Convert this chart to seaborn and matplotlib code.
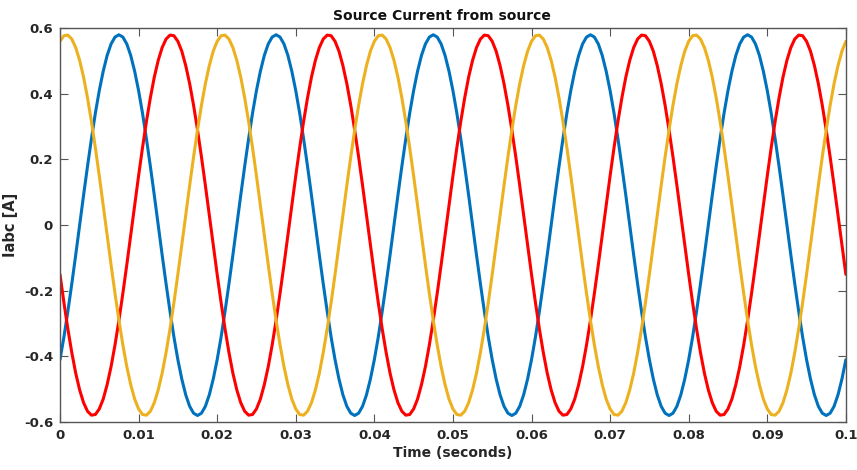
import numpy as np
import pandas as pd
import matplotlib
matplotlib.use('Agg')
import matplotlib.pyplot as plt
import seaborn as sns
from matplotlib.ticker import FuncFormatter

# sample times (0.5 ms step over 0.1 s)
t_start, t_stop, n_samples = 0.0, 0.1, 201

# phase currents [A], 40 samples per 20 ms period
ia = [
    -0.410, -0.341, -0.263, -0.179, -0.091, 0.000, 0.091, 0.179, 0.263, 0.341,
    0.410, 0.469, 0.517, 0.552, 0.573, 0.580, 0.573, 0.552, 0.517, 0.469,
    0.410, 0.341, 0.263, 0.179, 0.091, 0.000, -0.091, -0.179, -0.263, -0.341,
    -0.410, -0.469, -0.517, -0.552, -0.573, -0.580, -0.573, -0.552, -0.517, -0.469,
    -0.410, -0.341, -0.263, -0.179, -0.091, 0.000, 0.091, 0.179, 0.263, 0.341,
    0.410, 0.469, 0.517, 0.552, 0.573, 0.580, 0.573, 0.552, 0.517, 0.469,
    0.410, 0.341, 0.263, 0.179, 0.091, 0.000, -0.091, -0.179, -0.263, -0.341,
    -0.410, -0.469, -0.517, -0.552, -0.573, -0.580, -0.573, -0.552, -0.517, -0.469,
    -0.410, -0.341, -0.263, -0.179, -0.091, 0.000, 0.091, 0.179, 0.263, 0.341,
    0.410, 0.469, 0.517, 0.552, 0.573, 0.580, 0.573, 0.552, 0.517, 0.469,
    0.410, 0.341, 0.263, 0.179, 0.091, 0.000, -0.091, -0.179, -0.263, -0.341,
    -0.410, -0.469, -0.517, -0.552, -0.573, -0.580, -0.573, -0.552, -0.517, -0.469,
    -0.410, -0.341, -0.263, -0.179, -0.091, 0.000, 0.091, 0.179, 0.263, 0.341,
    0.410, 0.469, 0.517, 0.552, 0.573, 0.580, 0.573, 0.552, 0.517, 0.469,
    0.410, 0.341, 0.263, 0.179, 0.091, 0.000, -0.091, -0.179, -0.263, -0.341,
    -0.410, -0.469, -0.517, -0.552, -0.573, -0.580, -0.573, -0.552, -0.517, -0.469,
    -0.410, -0.341, -0.263, -0.179, -0.091, 0.000, 0.091, 0.179, 0.263, 0.341,
    0.410, 0.469, 0.517, 0.552, 0.573, 0.580, 0.573, 0.552, 0.517, 0.469,
    0.410, 0.341, 0.263, 0.179, 0.091, 0.000, -0.091, -0.179, -0.263, -0.341,
    -0.410, -0.469, -0.517, -0.552, -0.573, -0.580, -0.573, -0.552, -0.517, -0.469,
    -0.410,
]

ib = [
    -0.150, -0.236, -0.316, -0.388, -0.451, -0.502, -0.541, -0.567, -0.579, -0.577,
    -0.560, -0.530, -0.486, -0.431, -0.365, -0.290, -0.208, -0.121, -0.030, 0.061,
    0.150, 0.236, 0.316, 0.388, 0.451, 0.502, 0.541, 0.567, 0.579, 0.577,
    0.560, 0.530, 0.486, 0.431, 0.365, 0.290, 0.208, 0.121, 0.030, -0.061,
    -0.150, -0.236, -0.316, -0.388, -0.451, -0.502, -0.541, -0.567, -0.579, -0.577,
    -0.560, -0.530, -0.486, -0.431, -0.365, -0.290, -0.208, -0.121, -0.030, 0.061,
    0.150, 0.236, 0.316, 0.388, 0.451, 0.502, 0.541, 0.567, 0.579, 0.577,
    0.560, 0.530, 0.486, 0.431, 0.365, 0.290, 0.208, 0.121, 0.030, -0.061,
    -0.150, -0.236, -0.316, -0.388, -0.451, -0.502, -0.541, -0.567, -0.579, -0.577,
    -0.560, -0.530, -0.486, -0.431, -0.365, -0.290, -0.208, -0.121, -0.030, 0.061,
    0.150, 0.236, 0.316, 0.388, 0.451, 0.502, 0.541, 0.567, 0.579, 0.577,
    0.560, 0.530, 0.486, 0.431, 0.365, 0.290, 0.208, 0.121, 0.030, -0.061,
    -0.150, -0.236, -0.316, -0.388, -0.451, -0.502, -0.541, -0.567, -0.579, -0.577,
    -0.560, -0.530, -0.486, -0.431, -0.365, -0.290, -0.208, -0.121, -0.030, 0.061,
    0.150, 0.236, 0.316, 0.388, 0.451, 0.502, 0.541, 0.567, 0.579, 0.577,
    0.560, 0.530, 0.486, 0.431, 0.365, 0.290, 0.208, 0.121, 0.030, -0.061,
    -0.150, -0.236, -0.316, -0.388, -0.451, -0.502, -0.541, -0.567, -0.579, -0.577,
    -0.560, -0.530, -0.486, -0.431, -0.365, -0.290, -0.208, -0.121, -0.030, 0.061,
    0.150, 0.236, 0.316, 0.388, 0.451, 0.502, 0.541, 0.567, 0.579, 0.577,
    0.560, 0.530, 0.486, 0.431, 0.365, 0.290, 0.208, 0.121, 0.030, -0.061,
    -0.150,
]

ic = [
    0.560, 0.577, 0.579, 0.567, 0.541, 0.502, 0.451, 0.388, 0.316, 0.236,
    0.150, 0.061, -0.030, -0.121, -0.208, -0.290, -0.365, -0.431, -0.486, -0.530,
    -0.560, -0.577, -0.579, -0.567, -0.541, -0.502, -0.451, -0.388, -0.316, -0.236,
    -0.150, -0.061, 0.030, 0.121, 0.208, 0.290, 0.365, 0.431, 0.486, 0.530,
    0.560, 0.577, 0.579, 0.567, 0.541, 0.502, 0.451, 0.388, 0.316, 0.236,
    0.150, 0.061, -0.030, -0.121, -0.208, -0.290, -0.365, -0.431, -0.486, -0.530,
    -0.560, -0.577, -0.579, -0.567, -0.541, -0.502, -0.451, -0.388, -0.316, -0.236,
    -0.150, -0.061, 0.030, 0.121, 0.208, 0.290, 0.365, 0.431, 0.486, 0.530,
    0.560, 0.577, 0.579, 0.567, 0.541, 0.502, 0.451, 0.388, 0.316, 0.236,
    0.150, 0.061, -0.030, -0.121, -0.208, -0.290, -0.365, -0.431, -0.486, -0.530,
    -0.560, -0.577, -0.579, -0.567, -0.541, -0.502, -0.451, -0.388, -0.316, -0.236,
    -0.150, -0.061, 0.030, 0.121, 0.208, 0.290, 0.365, 0.431, 0.486, 0.530,
    0.560, 0.577, 0.579, 0.567, 0.541, 0.502, 0.451, 0.388, 0.316, 0.236,
    0.150, 0.061, -0.030, -0.121, -0.208, -0.290, -0.365, -0.431, -0.486, -0.530,
    -0.560, -0.577, -0.579, -0.567, -0.541, -0.502, -0.451, -0.388, -0.316, -0.236,
    -0.150, -0.061, 0.030, 0.121, 0.208, 0.290, 0.365, 0.431, 0.486, 0.530,
    0.560, 0.577, 0.579, 0.567, 0.541, 0.502, 0.451, 0.388, 0.316, 0.236,
    0.150, 0.061, -0.030, -0.121, -0.208, -0.290, -0.365, -0.431, -0.486, -0.530,
    -0.560, -0.577, -0.579, -0.567, -0.541, -0.502, -0.451, -0.388, -0.316, -0.236,
    -0.150, -0.061, 0.030, 0.121, 0.208, 0.290, 0.365, 0.431, 0.486, 0.530,
    0.560,
]

phases = ['Ia', 'Ib', 'Ic']
phase_colors = {'Ia': '#0072BD', 'Ib': '#FF0000', 'Ic': '#EDB120'}

x_ticks = [0, 0.01, 0.02, 0.03, 0.04, 0.05, 0.06, 0.07, 0.08, 0.09, 0.1]
y_ticks = [-0.6, -0.4, -0.2, 0, 0.2, 0.4, 0.6]

# long-form table for seaborn
t = np.linspace(t_start, t_stop, n_samples)
df = pd.concat([
    pd.DataFrame({'time': t, 'current': vals, 'phase': name})
    for name, vals in zip(phases, [ia, ib, ic])
], ignore_index=True)

sns.set_style('ticks')
plt.rcParams['font.family'] = ['DejaVu Sans']
plt.rcParams['font.weight'] = 'bold'

fig = plt.figure(figsize=(8.57, 4.70), dpi=100)
ax = fig.add_axes([0.070, 0.102, 0.917, 0.838])

sns.lineplot(data=df, x='time', y='current', hue='phase', palette=phase_colors,
             hue_order=phases, estimator=None, sort=False, linewidth=2.2,
             legend=False, ax=ax)

ax.set_xlim(0, 0.1)
ax.set_ylim(-0.6, 0.6)
ax.set_xticks(x_ticks)
ax.set_yticks(y_ticks)
ax.xaxis.set_major_formatter(FuncFormatter(lambda v, p: f'{v:g}'))
ax.yaxis.set_major_formatter(FuncFormatter(lambda v, p: f'{v:g}'))
ax.tick_params(direction='in', length=6, width=0.8, top=True, right=True,
               colors='#555555', labelcolor='#262626', labelsize=9.5, pad=5)
for lbl in ax.get_xticklabels() + ax.get_yticklabels():
    lbl.set_fontweight('bold')

for side in ['left', 'right', 'top', 'bottom']:
    ax.spines[side].set_visible(True)
    ax.spines[side].set_color('#555555')
    ax.spines[side].set_linewidth(1.0)

ax.set_title('Source Current from source', fontsize=10, fontweight='bold',
             color='#111111', pad=6, x=0.486)
ax.set_xlabel('Time (seconds)', fontsize=10, fontweight='bold', color='#262626', labelpad=3)
ax.set_ylabel('Iabc [A]', fontsize=10.5, fontweight='bold', color='#262626', labelpad=4)

fig.savefig('out.png', dpi=100)
